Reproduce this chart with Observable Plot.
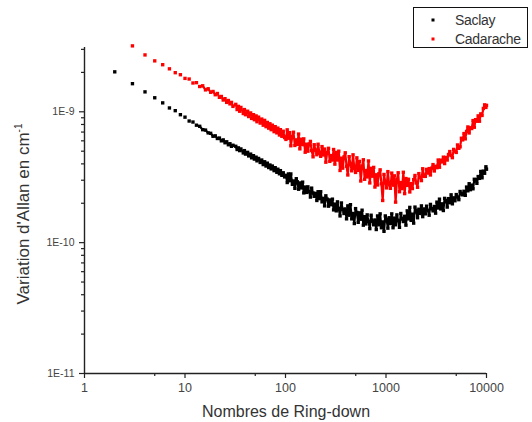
<!DOCTYPE html>
<html>
<head>
<meta charset="utf-8">
<script src="https://cdn.jsdelivr.net/npm/d3@7"></script>
<script src="https://cdn.jsdelivr.net/npm/@observablehq/plot@0.6"></script>
<style>
  html, body { margin: 0; padding: 0; background: #ffffff; }
  #wrap { position: relative; width: 532px; height: 422px; overflow: hidden; background: #fff; }
  #overlay { position: absolute; left: 0; top: 0; pointer-events: none; }
</style>
</head>
<body>
<div id="wrap"></div>
<script>
// ---- data (y values in units of 1E-10 cm-1) ----
const ringdowns = [
  2,3,4,5,6,7,8,9,10,11,12,13,14,15,16,17,18,19,20,21,22,23,24,25,26,27,28,29,30,
  32,33,34,35,36,38,39,40,42,43,45,46,48,49,51,52,54,56,58,60,62,64,66,68,70,72,74,77,79,82,84,87,89,92,95,98,
  101,104,107,110,113,117,120,124,128,131,
  135,139,144,148,152,157,162,167,172,177,
  182,188,193,199,205,211,218,224,231,238,
  245,252,260,268,276,284,293,301,310,320,
  329,339,349,360,371,382,393,405,417,430,
  443,456,470,484,498,513,529,544,561,578,
  595,613,631,650,670,690,711,732,754,776,
  800,824,848,874,900,927,955,984,1013,1044,
  1075,1107,1141,1175,1210,1246,1284,1322,1362,1403,
  1445,1488,1533,1579,1626,1675,1725,1777,1831,1885,
  1942,2000,2060,2122,2186,2251,2319,2388,2460,2534,
  2610,2688,2768,2852,2937,3025,3116,3209,3306,3405,
  3507,3612,3721,3832,3947,4066,4188,4313,4443,4576,
  4713,4855,5000,5150,5305,5464,5628,5797,5970,6150,
  6334,6524,6720,6921,7129,7343,7563,7790,8024,8264,
  8512,8768,9031,9302,9581,9869,10000
];

const saclay = [
  20.2,16.4,14.2,12.8,11.7,10.7,10.2,9.5,9.1,8.5,8.35,7.9,7.75,7.3,7.25,6.9,6.85,6.5,6.55,6.25,6.3,6.0,6.1,5.8,5.9,5.6,5.7,5.45,5.55,
  5.45,5.15,5.3,5.05,5.2,4.85,5.05,4.75,4.9,4.6,4.75,4.45,4.62,4.35,4.5,4.22,4.4,4.1,4.28,3.95,4.15,3.85,4.05,3.75,3.92,3.66,3.85,3.55,3.74,3.45,3.64,3.36,3.55,3.27,3.42,3.18,
  3.27,2.88,3.35,2.97,3.35,2.79,2.96,2.60,3.08,2.92,
  2.56,2.86,2.62,2.90,2.40,2.66,2.42,2.67,2.45,2.23,
  2.61,2.39,2.26,2.38,2.10,2.45,2.17,2.45,2.05,2.18,
  1.91,2.28,2.15,1.90,2.12,1.95,2.15,1.78,1.97,1.75,
  2.05,1.82,1.60,2.01,1.79,1.67,1.81,1.52,1.91,1.62,
  1.95,1.52,1.67,1.40,1.82,1.70,1.43,1.69,1.51,1.77,
  1.36,1.58,1.39,1.63,1.45,1.28,1.62,1.46,1.37,1.49,
  1.26,1.60,1.37,1.66,1.30,1.44,1.22,1.60,1.51,1.29,
  1.55,1.40,1.66,1.30,1.54,1.37,1.63,1.47,1.31,1.67,
  1.52,1.45,1.59,1.36,1.75,1.52,1.86,1.48,1.65,1.41,
  1.87,1.75,1.55,1.80,1.67,1.91,1.58,1.81,1.66,1.90,
  1.76,1.62,1.96,1.82,1.75,1.89,1.68,2.04,1.84,2.15,
  1.81,1.98,1.76,2.18,2.10,1.87,2.17,2.02,2.32,1.98,
  2.20,2.09,2.33,2.23,2.13,2.46,2.36,2.32,2.47,2.30,
  2.66,2.49,2.82,2.54,2.75,2.58,3.05,3.03,2.84,3.20,
  3.10,3.50,3.13,3.52,3.39,3.80,3.64
];

const cadarache = [
  null,31.9,27.2,24.5,22.9,21.3,19.9,19.2,18.0,17.8,16.6,16.7,15.6,15.8,14.7,15.0,14.1,14.3,13.5,13.8,12.9,13.1,12.3,12.6,11.8,12.2,11.5,11.8,11.0,
  11.4,10.4,11.0,10.1,10.8,9.7,10.4,9.5,10.1,9.2,9.8,8.9,9.5,8.7,9.3,8.4,9.1,8.2,8.8,7.9,8.6,7.7,8.3,7.5,8.1,7.3,7.9,7.05,7.7,6.9,7.5,6.65,7.3,6.5,7.1,6.35,
  6.15,7.28,6.28,6.93,5.50,6.50,6.98,5.53,6.10,5.64,
  6.76,5.21,6.17,5.61,6.21,4.91,5.65,5.00,5.68,5.94,
  5.06,4.53,5.60,5.09,4.70,5.65,4.81,4.57,5.42,4.68,
  5.19,4.12,4.89,5.26,4.18,4.63,4.28,5.15,3.98,4.89,
  4.28,5.00,3.56,4.42,3.71,4.52,4.86,3.84,3.29,4.54,
  3.97,3.54,4.69,3.69,3.44,4.45,3.57,4.18,2.96,3.84,
  4.30,3.05,3.56,3.18,4.21,2.86,3.70,3.22,3.76,2.66,
  3.30,2.76,3.36,3.60,2.82,2.10,3.32,2.91,2.62,3.49,
  2.77,2.60,3.40,2.75,3.24,2.04,3.03,3.42,2.45,2.88,
  2.59,3.45,2.37,3.09,2.74,3.05,2.44,2.83,2.59,3.03,
  3.26,2.86,2.65,3.37,3.15,2.98,3.67,3.21,3.21,3.63,
  3.40,3.68,3.29,3.71,3.95,3.53,3.83,3.74,4.28,3.77,
  4.27,4.14,4.50,4.02,4.48,4.28,4.72,4.97,4.63,4.46,
  5.16,5.00,4.89,5.58,5.26,5.40,6.28,6.10,6.82,6.21,
  7.08,7.66,6.89,7.55,7.45,8.57,7.62,8.71,8.47,9.31,
  8.47,9.64,9.38,10.6,11.3,10.8,11.2
];

const valueUnit = 1e-10;
const seriesNames = ["Saclay", "Cadarache"];
const seriesColors = ["#000000", "#ff0000"];

const xTickValues = [1, 10, 100, 1000, 10000];
const xTickLabels = ["1", "10", "100", "1000", "10000"];
const xMinorTicks = [5, 50, 500, 5000];

const yTickValues = [1e-11, 1e-10, 1e-9];
const yTickLabels = ["1E-11", "1E-10", "1E-9"];
const yMinorTicks = [2e-11,3e-11,4e-11,5e-11,6e-11,7e-11,8e-11,9e-11,
                     2e-10,3e-10,4e-10,5e-10,6e-10,7e-10,8e-10,9e-10,
                     2e-9,3e-9];

const xTitle = "Nombres de Ring-down";
const yTitle = "Variation d'Allan en cm";
const yTitleSup = "-1";

// ---- build table ----
const points = [];
ringdowns.forEach((x, i) => {
  if (saclay[i] != null) points.push({x, y: saclay[i] * valueUnit, series: seriesNames[0]});
});
ringdowns.forEach((x, i) => {
  if (cadarache[i] != null) points.push({x, y: cadarache[i] * valueUnit, series: seriesNames[1]});
});
// where the measured points crowd together they merge into a solid band
const densePoints = points.filter(d => d.x >= 14);

const axisColor = "#222";
const chart = Plot.plot({
  width: 532,
  height: 422,
  marginLeft: 84,
  marginRight: 46,
  marginTop: 47,
  marginBottom: 49,
  style: {fontFamily: "'Liberation Sans', Arial, sans-serif", background: "transparent", color: "#333"},
  x: {type: "log", domain: [1, 10000]},
  y: {type: "log", domain: [1e-11, 3.1e-9]},
  color: {domain: seriesNames, range: seriesColors},
  marks: [
    Plot.axisX({ticks: xMinorTicks, tickFormat: () => "", tickSize: 3, label: null, stroke: axisColor, strokeWidth: 1.2}),
    Plot.axisX({ticks: xTickValues, tickFormat: d => xTickLabels[xTickValues.indexOf(d)], tickSize: 5, tickPadding: 5,
                fontSize: 12.5, label: null, stroke: axisColor, strokeWidth: 1.2, fill: "#444"}),
    Plot.axisY({ticks: yMinorTicks, tickFormat: () => "", tickSize: 3, label: null, stroke: axisColor, strokeWidth: 1.2}),
    Plot.axisY({ticks: yTickValues, tickFormat: d => yTickLabels[yTickValues.indexOf(d)], tickSize: 5, tickPadding: 5,
                fontSize: 10.5, label: null, stroke: axisColor, strokeWidth: 1.2, fill: "#444"}),
    Plot.ruleY([1e-11], {stroke: axisColor, strokeWidth: 1.4}),
    Plot.ruleX([1], {stroke: axisColor, strokeWidth: 1.4}),
    Plot.line(densePoints, {x: "x", y: "y", stroke: "series", strokeWidth: 2.2, strokeLinejoin: "miter", curve: "linear"}),
    Plot.dot(points, {x: "x", y: "y", fill: "series", symbol: "square", r: 1.9})
  ]
});

const wrap = document.getElementById("wrap");
wrap.appendChild(chart);

// ---- titles and legend (real text) ----
const ns = "http://www.w3.org/2000/svg";
const ov = document.createElementNS(ns, "svg");
ov.setAttribute("id", "overlay");
ov.setAttribute("width", 532);
ov.setAttribute("height", 422);
ov.setAttribute("font-family", "'Liberation Sans', Arial, sans-serif");

function el(tag, attrs, text) {
  const e = document.createElementNS(ns, tag);
  for (const k in attrs) e.setAttribute(k, attrs[k]);
  if (text != null) e.textContent = text;
  return e;
}

// x title
ov.appendChild(el("text", {x: 286, y: 417, "text-anchor": "middle", "font-size": 16, fill: "#333"}, xTitle));

// y title (rotated, with superscript)
const yt = el("text", {transform: "translate(29,214) rotate(-90)", "text-anchor": "middle", "font-size": 17, fill: "#333"});
yt.appendChild(document.createTextNode(yTitle));
const sup = el("tspan", {"font-size": 10, dy: -7}, yTitleSup);
yt.appendChild(sup);
ov.appendChild(yt);

// legend
ov.appendChild(el("rect", {x: 413.5, y: 7.5, width: 114, height: 40, fill: "white", stroke: "#111", "stroke-width": 1}));
const legendRows = [{y: 20, text: seriesNames[0], color: seriesColors[0]},
                    {y: 39, text: seriesNames[1], color: seriesColors[1]}];
legendRows.forEach(r => {
  ov.appendChild(el("rect", {x: 431.5, y: r.y - 1.5, width: 3, height: 3, fill: r.color}));
  ov.appendChild(el("text", {x: 455, y: r.y + 5, "font-size": 14, fill: "#333", "letter-spacing": -0.3}, r.text));
});

wrap.appendChild(ov);
</script>
</body>
</html>
